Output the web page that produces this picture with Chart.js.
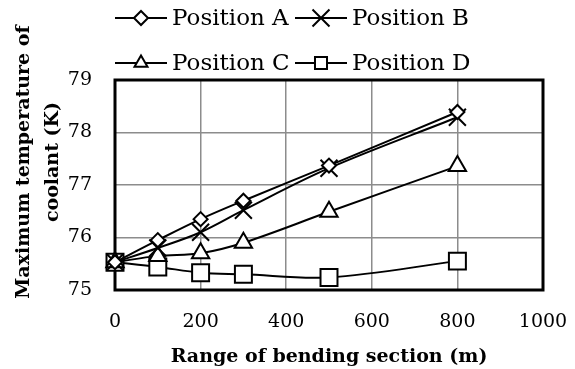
<!DOCTYPE html>
<html>
<head>
<meta charset="utf-8">
<script src="https://cdn.jsdelivr.net/npm/chart.js@4/dist/chart.umd.min.js"></script>
<style>
  html, body { margin: 0; padding: 0; background: #fff; }
  #wrap { width: 575px; height: 369px; }
</style>
</head>
<body>
<div id="wrap"><canvas id="chart"></canvas></div>
<script>
// Range of bending section (m) and max coolant temperature (K) per position
const distances = [0, 100, 200, 300, 500, 800];
const positionA = [75.53, 75.95, 76.35, 76.70, 77.37, 78.39];
const positionB = [75.53, 75.80, 76.10, 76.52, 77.32, 78.29];
const positionC = [75.53, 75.65, 75.70, 75.90, 76.49, 77.36];
const positionD = [75.53, 75.44, 75.33, 75.30, 75.24, 75.55];
const seriesNames = ["Position A", "Position B", "Position C", "Position D"];
const xTicks = [0, 200, 400, 600, 800, 1000];
const yTicks = [75, 76, 77, 78, 79];

const serif = "'DejaVu Serif', 'Liberation Serif', serif";

// marker shape and size for each series (plot / legend)
const markers = [
    { style: "rectRot", radius: 7, legendRadius: 7 },
    { style: "crossRot", radius: 12, legendRadius: 12 },
    { style: "triangle", radius: 10, legendRadius: 7.5 },
    { style: "rect", radius: 12, legendRadius: 8.5 },
];

const allSeries = [positionA, positionB, positionC, positionD];

const datasets = allSeries.map((values, i) => ({
    label: seriesNames[i],
    data: values.map((v, j) => ({ x: distances[j], y: v })),
    borderColor: "#000",
    borderWidth: 2,
    backgroundColor: "#fff",
    pointStyle: markers[i].style,
    pointRadius: markers[i].radius,
    pointHoverRadius: markers[i].radius,
    pointBorderColor: "#000",
    pointBackgroundColor: "#fff",
    pointBorderWidth: 2,
    tension: 0.35,
    clip: false,
}));

// frame round the plot, two-row legend and the two-line y title
const framePlugin = {
    id: "framePlugin",
    beforeDatasetsDraw(chart) {
        const { ctx, chartArea: a } = chart;
        ctx.save();
        ctx.strokeStyle = "#000";
        ctx.lineWidth = 3;
        ctx.strokeRect(a.left, a.top, a.right - a.left, a.bottom - a.top);
        ctx.restore();
    },
    afterDraw(chart) {
        const ctx = chart.ctx;
        const rowsY = [18, 63];
        const colsX = [115, 295];
        ctx.save();
        ctx.font = "23px " + serif;
        ctx.textBaseline = "middle";
        ctx.fillStyle = "#000";
        seriesNames.forEach((name, i) => {
            const x = colsX[i % 2];
            const y = rowsY[Math.floor(i / 2)];
            ctx.strokeStyle = "#000";
            ctx.lineWidth = 2;
            ctx.beginPath();
            ctx.moveTo(x, y);
            ctx.lineTo(x + 52, y);
            ctx.stroke();
            ctx.fillStyle = "#fff";
            Chart.helpers.drawPoint(ctx, {
                pointStyle: markers[i].style,
                radius: markers[i].legendRadius,
                rotation: 0,
                borderWidth: 2,
            }, x + 26, y);
            ctx.fillStyle = "#000";
            ctx.textAlign = "left";
            ctx.fillText(name, x + 57, y + 1);
        });

        ctx.font = "bold 19px " + serif;
        ctx.textAlign = "center";
        ctx.translate(24, 162);
        ctx.rotate(-Math.PI / 2);
        ctx.fillText("Maximum temperature of", 0, 0);
        ctx.fillText("coolant (K)", 0, 29);
        ctx.restore();
    },
};

new Chart(document.getElementById("chart"), {
    type: "line",
    data: { datasets: datasets },
    plugins: [framePlugin],
    options: {
        responsive: true,
        maintainAspectRatio: false,
        animation: false,
        layout: { padding: { top: 80, right: 32, left: 0, bottom: 0 } },
        plugins: {
            legend: { display: false },
            tooltip: { enabled: false },
        },
        scales: {
            x: {
                type: "linear",
                min: xTicks[0],
                max: xTicks[xTicks.length - 1],
                afterFit: (scale) => {
                    scale.height = 79;
                    scale.paddingRight = 0;
                },
                afterBuildTicks: (scale) => { scale.ticks = xTicks.map((v) => ({ value: v })); },
                grid: { color: "#8c8c8c", lineWidth: 1.5, drawTicks: false },
                border: { display: false },
                ticks: {
                    color: "#000",
                    font: { family: serif, size: 19 },
                    padding: 21,
                    maxRotation: 0,
                    callback: (v) => String(v),
                },
                title: {
                    display: true,
                    text: "Range of bending section (m)",
                    color: "#000",
                    font: { family: serif, size: 19, weight: "bold" },
                    padding: { top: 0, bottom: 1 },
                },
            },
            y: {
                min: yTicks[0],
                max: yTicks[yTicks.length - 1],
                afterFit: (scale) => { scale.width = 115; },
                afterBuildTicks: (scale) => { scale.ticks = yTicks.map((v) => ({ value: v })); },
                grid: { color: "#8c8c8c", lineWidth: 1.5, drawTicks: false },
                border: { display: false },
                ticks: { color: "#000", font: { family: serif, size: 19 }, padding: 23 },
            },
        },
    },
});
</script>
</body>
</html>
